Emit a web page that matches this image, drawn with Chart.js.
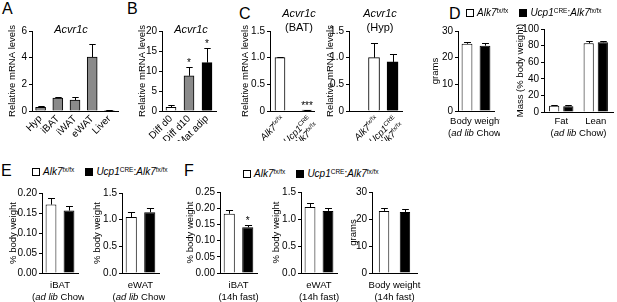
<!DOCTYPE html>
<html><head><meta charset="utf-8">
<script src="https://cdn.jsdelivr.net/npm/chart.js@4.4.1/dist/chart.umd.min.js"></script>
<style>
body{margin:0;background:#fff;font-family:"Liberation Sans",Arial,Helvetica,sans-serif;color:#000;}
#fig{position:relative;width:617px;height:302px;overflow:hidden;background:#fff;}
canvas{position:absolute;}
.t{position:absolute;white-space:nowrap;line-height:1;}
.let{font-size:16px;}
.ttl{font-size:11px;transform:translate(-50%,-50%);text-align:center;}
.ttl i{font-style:italic;}
.leg{position:absolute;display:flex;align-items:center;font-size:10px;white-space:nowrap;transform:translateY(-50%);line-height:1;}
.sq{display:inline-block;width:6px;height:6px;border:1px solid #000;background:#fff;margin-right:3px;}
.sq.k{background:#000;margin-left:11px;}
sup{font-size:0.65em;vertical-align:0.45em;line-height:0;}
</style></head>
<body><div id="fig"></div>
<script>
// ---------------- DATA ----------------
const seriesNames = ['_Alk7_^fx/fx^', '_Ucp1_^CRE^:_Alk7_^fx/fx^'];

const aCats = ['Hyp', 'iBAT', 'iWAT', 'eWAT', 'Liver'];
const aVals = [0.28, 0.97, 0.82, 4.05, 0.03];
const aErr  = [0.08, 0.08, 0.20, 1.00, 0.01];
const aTicks = [0, 1, 2, 3, 4, 5, 6];
const aTickLabels = ['0', '1', '2', '3', '4', '5', '6'];

const bCats = ['Diff d0', 'Diff d10', 'Mat adip'];
const bVals = [0.9, 8.8, 12.1];
const bErr  = [0.7, 2.1, 3.7];
const bSig  = ['', '*', '*'];
const bTicks = [0, 5, 10, 15, 20];
const bTickLabels = ['0', '5', '10', '15', '20'];

const cCats = ['_Alk7_^fx/fx^', '_Ucp1_^CRE^|:_Alk7_^fx/fx^'];
const cBatVals = [1.0, 0.015];
const cBatErr  = [0.012, 0.003];
const cBatSig  = ['', '***'];
const cHypVals = [1.0, 0.92];
const cHypErr  = [0.27, 0.14];
const cTicks = [0, 0.5, 1.0, 1.5];
const cTickLabels = ['0', '0.5', '1.0', '1.5'];

const dBwVals = [25.2, 24.5];
const dBwErr  = [0.7, 1.0];
const dBwTicks = [0, 10, 20, 30];
const dBwTickLabels = ['0', '10', '20', '30'];
const dMassCats = ['Fat', 'Lean'];
const dMassWt = [7.5, 82.8];
const dMassWtErr = [1.3, 2.7];
const dMassKo = [7.0, 84.0];
const dMassKoErr = [1.0, 1.9];
const dMassTicks = [0, 20, 40, 60, 80, 100];
const dMassTickLabels = ['0', '20', '40', '60', '80', '100'];

const eIbat = [0.171, 0.156];
const eIbatErr = [0.016, 0.012];
const eEwat = [1.05, 1.14];
const eEwatErr = [0.10, 0.08];
const fIbat = [0.183, 0.141];
const fIbatErr = [0.011, 0.008];
const fIbatSig = ['', '*'];
const fEwat = [1.22, 1.15];
const fEwatErr = [0.08, 0.05];
const fBw = [23.0, 22.6];
const fBwErr = [1.2, 1.1];
const iTicks020 = [0, 0.05, 0.10, 0.15, 0.20];
const iTickLabels020 = ['0.00', '0.05', '0.10', '0.15', '0.20'];
const iTicks025 = [0, 0.05, 0.10, 0.15, 0.20, 0.25];
const iTickLabels025 = ['0.00', '0.05', '0.10', '0.15', '0.20', '0.25'];
const wTicks = [0, 0.5, 1.0, 1.5];
const wTickLabels = ['0.0', '0.5', '1.0', '1.5'];

// ---------------- HELPERS ----------------
const FONT = '"Liberation Sans", Arial, Helvetica, sans-serif';
Chart.defaults.font.family = FONT;
Chart.defaults.color = '#000';
const FS = 9.5;
const TFS = 10;
const GRAY = '#8a8a8a';

function parseRich(s) {
  const segs = []; let cur = '', it = false, sup = false;
  for (const ch of s) {
    if (ch === '_' || ch === '^') {
      if (cur) segs.push({t: cur, it, sup}); cur = '';
      if (ch === '_') it = !it; else sup = !sup;
    } else cur += ch;
  }
  if (cur) segs.push({t: cur, it, sup});
  return segs;
}
function richHTML(s) {
  return parseRich(s).map(g => {
    let h = g.t; if (g.it) h = '<i>' + h + '</i>'; if (g.sup) h = '<sup>' + h + '</sup>'; return h;
  }).join('');
}
function segFont(g, size) { return (g.it ? 'italic ' : '') + (g.sup ? size * 0.65 : size) + 'px ' + FONT; }
function drawRich(ctx, s, x, y, align, size) {
  const segs = parseRich(s);
  let w = 0;
  segs.forEach(g => { ctx.font = segFont(g, size); g.w = ctx.measureText(g.t).width; w += g.w; });
  let cx = align === 'right' ? x - w : align === 'center' ? x - w / 2 : x;
  ctx.textAlign = 'left'; ctx.textBaseline = 'alphabetic';
  segs.forEach(g => { ctx.font = segFont(g, size); ctx.fillText(g.t, cx, g.sup ? y - size * 0.38 : y); cx += g.w; });
}
function valOf(d) { return (d !== null && typeof d === 'object') ? d.y : d; }

const errPlugin = {
  id: 'errbars',
  afterDatasetsDraw(chart) {
    const ctx = chart.ctx, ys = chart.scales.y;
    ctx.save();
    ctx.strokeStyle = '#000'; ctx.fillStyle = '#000'; ctx.lineWidth = 1;
    chart.data.datasets.forEach((ds, di) => {
      const meta = chart.getDatasetMeta(di);
      meta.data.forEach((bar, i) => {
        const v = valOf(ds.data[i]), e = ds.errors ? ds.errors[i] : 0;
        const top = Math.round(ys.getPixelForValue(v + e)) + 0.5;
        const x = Math.round(bar.x) + 0.5;
        const cw = Math.max(2, bar.width * 0.32);
        ctx.beginPath();
        ctx.moveTo(x, bar.y); ctx.lineTo(x, top);
        ctx.moveTo(x - cw, top); ctx.lineTo(x + cw, top);
        ctx.stroke();
        if (ds.sig && ds.sig[i]) {
          ctx.font = '10px ' + FONT; ctx.textAlign = 'center'; ctx.textBaseline = 'alphabetic';
          ctx.fillText(ds.sig[i], bar.x, top - 2);
        }
      });
    });
    ctx.restore();
  }
};
function xlabPlugin(items) {
  return {
    id: 'xlab',
    afterDraw(chart) {
      const ctx = chart.ctx, area = chart.chartArea, xs = chart.scales.x;
      ctx.save(); ctx.fillStyle = '#000';
      items.forEach(it => {
        let x;
        if (it.at === 'center') x = (area.left + area.right) / 2;
        else if (xs.type === 'linear') x = xs.getPixelForValue(it.at);
        else x = xs.getPixelForTick(it.at);
        x += (it.dx || 0);
        const y = area.bottom + it.dy;
        const lines = it.text.split('|');
        if (it.rotate) {
          ctx.save(); ctx.translate(x, y); ctx.rotate(-Math.PI / 4);
          lines.forEach((l, j) => drawRich(ctx, l, 0, j * (it.lh || 9), 'right', FS));
          ctx.restore();
        } else {
          lines.forEach((l, j) => drawRich(ctx, l, x, y + j * (it.lh || 12), 'center', FS));
        }
      });
      ctx.restore();
    }
  };
}

function addChart(spec) {
  const fig = document.getElementById('fig');
  const cv = document.createElement('canvas');
  const left = spec.titleX - 6, top = spec.T - 8, padR = 6;
  const bottom = spec.bottom || 30;
  const w = spec.R - left + padR, h = spec.B - top + bottom;
  cv.width = w; cv.height = h;
  cv.style.left = left + 'px'; cv.style.top = top + 'px';
  cv.style.width = w + 'px'; cv.style.height = h + 'px';
  fig.appendChild(cv);
  const yW = spec.L - left;
  const xScale = spec.xLin ? {
      type: 'linear', min: spec.xLin[0], max: spec.xLin[1], offset: false,
      grid: {display: false, drawTicks: false},
      border: {display: true, color: '#000', width: 1},
      ticks: {display: false},
      afterFit: s => { s.height = bottom; s.paddingLeft = 0; s.paddingRight = 0; }
    } : {
      type: 'category', offset: true,
      grid: {display: false, drawTicks: false},
      border: {display: true, color: '#000', width: 1},
      ticks: spec.xTicks || {display: false},
      afterFit: s => { s.height = bottom; s.paddingLeft = 0; s.paddingRight = 0; }
    };
  new Chart(cv, {
    type: 'bar',
    data: {labels: spec.labels, datasets: spec.datasets},
    plugins: [errPlugin, xlabPlugin(spec.xlab || [])],
    options: {
      responsive: false, animation: false, devicePixelRatio: 1,
      layout: {padding: {top: 8, right: padR, left: 0, bottom: 0}},
      plugins: {legend: {display: false}, tooltip: {enabled: false}},
      scales: {
        x: xScale,
        y: {
          min: spec.ticks[0], max: spec.ticks[spec.ticks.length - 1],
          afterBuildTicks: s => { s.ticks = spec.ticks.map(v => ({value: v})); },
          grid: {display: true, drawOnChartArea: false, drawTicks: true, tickLength: 3, color: '#000'},
          border: {display: true, color: '#000', width: 1},
          ticks: {padding: 2, callback: (v, i) => spec.tickLabels[i], font: {size: TFS}, color: '#000'},
          title: {display: true, text: spec.yTitle, padding: 0, font: {size: FS}, color: '#000'},
          afterFit: s => { s.width = yW; s.paddingTop = 0; s.paddingBottom = 0; }
        }
      }
    }
  });
}
function single(vals, errs, colors, thick, sig) {
  return [{data: vals, errors: errs, sig: sig, backgroundColor: colors, borderColor: '#000', borderWidth: 1, barThickness: thick}];
}
function indexed(vals) { return vals.map((v, i) => ({x: i, y: v})); }
function pair(wt, ko, wtErr, koErr, cat, bar, sig) {
  return [
    {label: seriesNames[0], data: wt, errors: wtErr, backgroundColor: '#fff', borderColor: '#000', borderWidth: 1, categoryPercentage: cat, barPercentage: bar},
    {label: seriesNames[1], data: ko, errors: koErr, sig: sig, backgroundColor: '#000', borderColor: '#000', borderWidth: 1, categoryPercentage: cat, barPercentage: bar}
  ];
}
const rotTicks = {display: true, minRotation: 45, maxRotation: 45, autoSkip: false, padding: 2, font: {size: TFS}, color: '#000'};

// A
addChart({L: 32, R: 118, T: 31, B: 111, titleX: 13, labels: aCats, yTitle: 'Relative mRNA levels',
  ticks: aTicks, tickLabels: aTickLabels, xTicks: rotTicks,
  datasets: single(aVals, aErr, GRAY, 10)});
// B
addChart({L: 162, R: 216, T: 31, B: 111, titleX: 143, labels: bCats, yTitle: 'Relative mRNA levels',
  ticks: bTicks, tickLabels: bTickLabels, xTicks: rotTicks,
  datasets: single(bVals, bErr, ['#fff', GRAY, '#000'], 10, bSig)});
// C BAT
addChart({L: 270, R: 314, T: 31, B: 111, titleX: 246, yTitle: 'Relative mRNA levels',
  ticks: cTicks, tickLabels: cTickLabels, xLin: [-0.37, 1.26],
  xlab: [{at: 0, text: cCats[0], rotate: true, dx: 5, dy: 9}, {at: 1, text: cCats[1], rotate: true, dx: 5, dy: 9, lh: 9.5}],
  datasets: single(indexed(cBatVals), cBatErr, ['#fff', '#000'], 10, cBatSig)});
// C Hyp
addChart({L: 349, R: 402, T: 31, B: 111, titleX: 331, yTitle: 'Relative mRNA levels',
  ticks: cTicks, tickLabels: cTickLabels, xLin: [-1.35, 1.51],
  xlab: [{at: 0, text: cCats[0], rotate: true, dx: 5, dy: 9}, {at: 1, text: cCats[1], rotate: true, dx: 5, dy: 9, lh: 9.5}],
  datasets: single(indexed(cHypVals), cHypErr, ['#fff', '#000'], 11)});
// D grams
addChart({L: 458, R: 494, T: 31, B: 111, titleX: 436, labels: ['Body weight'], yTitle: 'grams',
  ticks: dBwTicks, tickLabels: dBwTickLabels,
  xlab: [{at: 'center', text: 'Body weight|(_ad lib_ Chow)', dy: 13, lh: 11.5}],
  datasets: pair([dBwVals[0]], [dBwVals[1]], [dBwErr[0]], [dBwErr[1]], 1.0, 0.6)});
// D mass
addChart({L: 544, R: 613, T: 29, B: 112, titleX: 521, labels: dMassCats, yTitle: 'Mass (% body weight)',
  ticks: dMassTicks, tickLabels: dMassTickLabels,
  xTicks: {display: true, maxRotation: 0, padding: 4, font: {size: FS}, color: '#000'},
  xlab: [{at: 'center', text: '(_ad lib_ Chow)', dy: 23.5}],
  datasets: pair(dMassWt, dMassKo, dMassWtErr, dMassKoErr, 0.82, 0.72)});
// E iBAT
addChart({L: 42, R: 78, T: 193, B: 273, titleX: 14, labels: ['iBAT'], yTitle: '% body weight',
  ticks: iTicks020, tickLabels: iTickLabels020,
  xlab: [{at: 'center', text: 'iBAT|(_ad lib_ Chow)', dy: 14.5, lh: 12}],
  datasets: pair([eIbat[0]], [eIbat[1]], [eIbatErr[0]], [eIbatErr[1]], 1.0, 0.6)});
// E eWAT
addChart({L: 122, R: 159, T: 193, B: 273, titleX: 98, labels: ['eWAT'], yTitle: '% body weight',
  ticks: wTicks, tickLabels: wTickLabels,
  xlab: [{at: 'center', text: 'eWAT|(_ad lib_ Chow)', dy: 14.5, lh: 12}],
  datasets: pair([eEwat[0]], [eEwat[1]], [eEwatErr[0]], [eEwatErr[1]], 1.0, 0.6)});
// F iBAT
addChart({L: 220, R: 257, T: 192, B: 273, titleX: 191, labels: ['iBAT'], yTitle: '% body weight',
  ticks: iTicks025, tickLabels: iTickLabels025,
  xlab: [{at: 'center', text: 'iBAT|(14h fast)', dy: 14.5, lh: 12}],
  datasets: pair([fIbat[0]], [fIbat[1]], [fIbatErr[0]], [fIbatErr[1]], 1.0, 0.6, [fIbatSig[1]])});
// F eWAT
addChart({L: 301, R: 337, T: 192, B: 273, titleX: 277, labels: ['eWAT'], yTitle: '% body weight',
  ticks: wTicks, tickLabels: wTickLabels,
  xlab: [{at: 'center', text: 'eWAT|(14h fast)', dy: 14.5, lh: 12}],
  datasets: pair([fEwat[0]], [fEwat[1]], [fEwatErr[0]], [fEwatErr[1]], 1.0, 0.6)});
// F body weight
addChart({L: 372, R: 417, T: 192, B: 273, titleX: 354, labels: ['Body weight'], yTitle: 'grams',
  ticks: dBwTicks, tickLabels: dBwTickLabels,
  xlab: [{at: 'center', text: 'Body weight|(14h fast)', dy: 14.5, lh: 12}],
  datasets: pair([fBw[0]], [fBw[1]], [fBwErr[0]], [fBwErr[1]], 0.93, 0.5)});

// ---------------- TEXT OVERLAYS ----------------
const fig = document.getElementById('fig');
function addText(cls, html, x, y) {
  const d = document.createElement('div'); d.className = 't ' + cls; d.innerHTML = html;
  d.style.left = x + 'px'; d.style.top = y + 'px'; fig.appendChild(d); return d;
}
[['A', 2, 1], ['B', 127, 1], ['C', 239, 6], ['D', 449, 6], ['E', 1, 163], ['F', 184, 163]]
  .forEach(([l, x, y]) => addText('let', l, x, y));
addText('ttl', '<i>Acvr1c</i>', 71, 29);
addText('ttl', '<i>Acvr1c</i>', 191, 29);
addText('ttl', '<i>Acvr1c</i><br>(BAT)', 299, 20).style.lineHeight = '14px';
addText('ttl', '<i>Acvr1c</i><br>(Hyp)', 380, 20).style.lineHeight = '14px';
function addLegend(x, y) {
  const d = document.createElement('div'); d.className = 'leg';
  d.style.left = x + 'px'; d.style.top = y + 'px';
  d.innerHTML = '<span class="sq"></span><span>' + richHTML(seriesNames[0]) + '</span>' +
                '<span class="sq k"></span><span>' + richHTML(seriesNames[1]) + '</span>';
  fig.appendChild(d);
}
addLegend(466, 13);
addLegend(32, 172);
addLegend(243, 174);
</script>
</body></html>
